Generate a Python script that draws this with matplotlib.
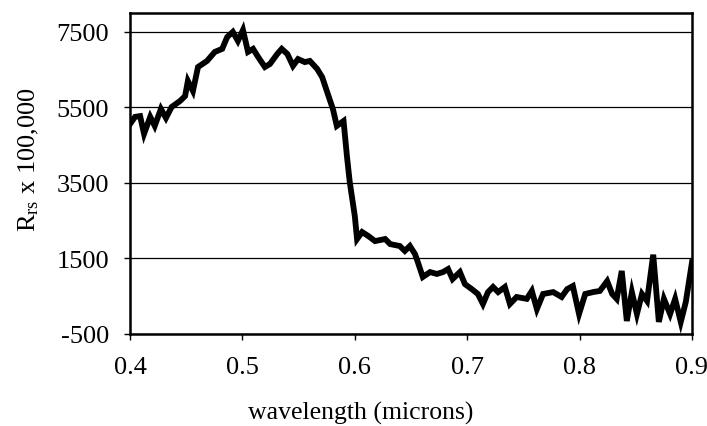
import matplotlib
matplotlib.use("Agg")
import matplotlib.pyplot as plt

# Remote-sensing reflectance spectrum (scaled by 100,000)
wavelength = [
    0.400, 0.4045, 0.409, 0.4125, 0.418, 0.422, 0.4275, 0.432, 0.437, 0.4445,
    0.449, 0.4515, 0.456, 0.4605, 0.4685, 0.4755, 0.482, 0.4865, 0.4915, 0.496,
    0.5005, 0.505, 0.5095, 0.514, 0.520, 0.5245, 0.531, 0.535, 0.540, 0.545,
    0.5495, 0.5555, 0.560, 0.5665, 0.571, 0.576, 0.5805, 0.584, 0.590, 0.593,
    0.5955, 0.600, 0.602, 0.6065, 0.612, 0.618, 0.627, 0.6315, 0.640, 0.6445,
    0.649, 0.6535, 0.656, 0.6605, 0.667, 0.673, 0.6785, 0.683, 0.687, 0.6935,
    0.698, 0.704, 0.7095, 0.714, 0.7185, 0.723, 0.7275, 0.7335, 0.738, 0.744,
    0.753, 0.7575, 0.762, 0.7675, 0.7765, 0.784, 0.789, 0.794, 0.7995, 0.805,
    0.812, 0.818, 0.8245, 0.829, 0.833, 0.8375, 0.842, 0.8465, 0.851, 0.8555,
    0.860, 0.8655, 0.8705, 0.875, 0.8805, 0.885, 0.890, 0.8945, 0.900,
]
rrs = [
    5060, 5250, 5270, 4800, 5250, 5010, 5460, 5220, 5510, 5670,
    5800, 6200, 5935, 6570, 6730, 6970, 7050, 7365, 7500, 7260,
    7550, 6970, 7050, 6835, 6570, 6650, 6915, 7050, 6915, 6600,
    6780, 6700, 6730, 6520, 6300, 5855, 5460, 5010, 5140, 4210,
    3525, 2625, 2015, 2200, 2095, 1960, 2015, 1880, 1830, 1700,
    1830, 1620, 1410, 1010, 1140, 1090, 1140, 1220, 955, 1140,
    820, 690, 560, 295, 610, 745, 610, 745, 295, 480,
    430, 640, 160, 560, 610, 480, 690, 770, 30, 560,
    610, 640, 900, 560, 430, 1170, -155, 610, 30, 560,
    375, 1600, -180, 430, 30, 430, -180, 350, 1400,
]

x_ticks = [0.4, 0.5, 0.6, 0.7, 0.8, 0.9]
y_ticks = [-500, 1500, 3500, 5500, 7500]

plt.rcParams["font.family"] = ["Liberation Serif", "DejaVu Serif"]
plt.rcParams["mathtext.fontset"] = "stix"

W, H = 707, 427
fig = plt.figure(figsize=(W / 100, H / 100), dpi=100)
ax = fig.add_axes([130 / W, 1 - 335 / H, 562 / W, 321 / H])

ax.plot(wavelength, rrs, color="black", linewidth=4.2, solid_joinstyle="miter")

ax.set_xlim(0.4, 0.9)
ax.set_ylim(-500, 8000)
ax.set_xticks(x_ticks)
ax.set_xticklabels([f"{v:.1f}" for v in x_ticks])
ax.set_yticks(y_ticks)
ax.set_yticklabels([str(v) for v in y_ticks])

ax.yaxis.grid(True, color="black", linewidth=0.9)
ax.set_axisbelow(True)

for s in ax.spines.values():
    s.set_linewidth(1.8)
    s.set_color("black")

ax.tick_params(axis="both", direction="out", length=4, width=1,
               labelsize=19, colors="black")
ax.tick_params(axis="x", pad=12)
ax.tick_params(axis="y", pad=11)

# Axis titles placed relative to the whole chart area
fig.text(361 / W, 1 - 413 / H, "wavelength (microns)", fontsize=18.5,
         ha="center", va="center")
fig.text(29 / W, 1 - 160 / H, r"$\mathregular{R_{rs}}$ x 100,000",
         fontsize=19, rotation=90, ha="center", va="center")

fig.savefig("out.png", dpi=100)
